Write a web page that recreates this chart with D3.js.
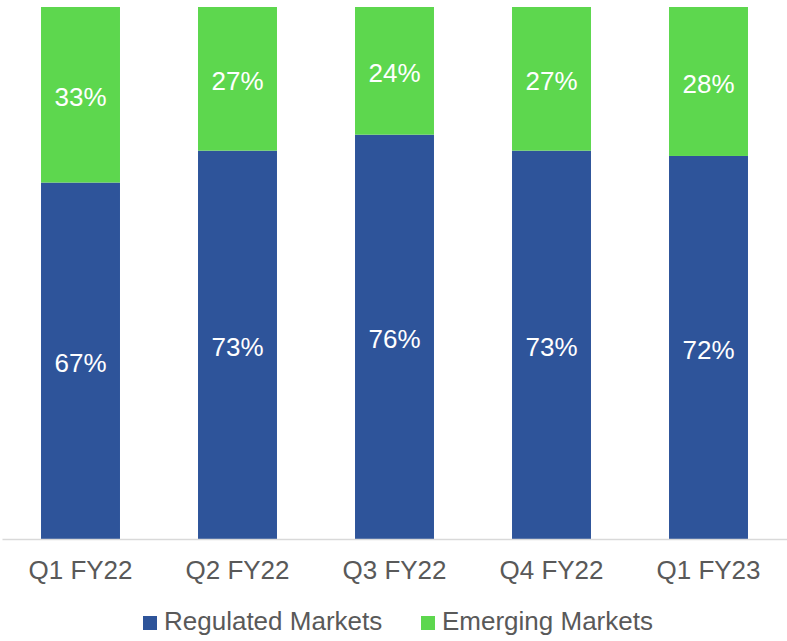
<!DOCTYPE html>
<html>
<head>
<meta charset="utf-8">
<script src="https://cdn.jsdelivr.net/npm/d3@7"></script>
<style>
  body { margin: 0; background: #fff; }
  text { font-family: "Liberation Sans", Arial, sans-serif; }
</style>
</head>
<body>
<div class="container"></div>
<script>
(function () {

    //chart data
    var quarters = ["Q1 FY22", "Q2 FY22", "Q3 FY22", "Q4 FY22", "Q1 FY23"];
    var regulated = [67, 73, 76, 73, 72];
    var emerging = [33, 27, 24, 27, 28];
    var seriesNames = ["Regulated Markets", "Emerging Markets"];
    var seriesColors = ["#2E549A", "#5DD74E"];

    var width = 787,
        height = 641,
        plotLeft = 2,
        plotRight = 787,
        plotTop = 7,
        plotBottom = 539;

    var svg = d3.select(".container")
        .append("svg")
        .attr("width", width)
        .attr("height", height);

    //stack the two series
    var rows = quarters.map(function (q, i) {
        return { quarter: q, reg: regulated[i], emg: emerging[i] };
    });
    var stack = d3.stack().keys(["reg", "emg"]);
    var layers = stack(rows);

    var xScale = d3.scaleBand()
        .domain(quarters)
        .range([plotLeft, plotRight])
        .paddingInner(0.497)
        .paddingOuter(0.2485);

    var yScale = d3.scaleLinear()
        .domain([0, 100])
        .range([plotBottom, plotTop]);

    //bars
    var groups = svg.selectAll(".layer")
        .data(layers)
        .enter()
        .append("g")
        .attr("class", "layer")
        .style("fill", function (d, i) { return seriesColors[i]; });

    groups.selectAll("rect")
        .data(function (d) { return d; })
        .enter()
        .append("rect")
        .attr("x", function (d) { return xScale(d.data.quarter); })
        .attr("width", xScale.bandwidth())
        .attr("y", function (d) { return yScale(d[1]); })
        .attr("height", function (d) { return yScale(d[0]) - yScale(d[1]); });

    //data labels
    groups.selectAll("text")
        .data(function (d) { return d; })
        .enter()
        .append("text")
        .attr("x", function (d) { return xScale(d.data.quarter) + xScale.bandwidth() / 2; })
        .attr("y", function (d) { return (yScale(d[0]) + yScale(d[1])) / 2 + 2; })
        .attr("dy", "0.35em")
        .attr("text-anchor", "middle")
        .style("fill", "#fff")
        .style("font-size", "26px")
        .text(function (d) { return (d[1] - d[0]) + "%"; });

    //x axis
    var xAxis = d3.axisBottom(xScale).tickSize(0).tickPadding(22);
    var axis = svg.append("g")
        .attr("transform", "translate(0," + plotBottom + ")")
        .call(xAxis);
    axis.select(".domain").attr("stroke", "#D9D9D9").attr("stroke-width", 1.5);
    axis.selectAll("text")
        .style("font-size", "26px")
        .style("fill", "#595959")
        .attr("font-family", null);

    //legend
    var legendX = [143, 421];
    var legend = svg.selectAll(".legend")
        .data(seriesNames)
        .enter()
        .append("g")
        .attr("class", "legend")
        .attr("transform", function (d, i) { return "translate(" + legendX[i] + ",616)"; });

    legend.append("rect")
        .attr("width", 14)
        .attr("height", 14)
        .style("fill", function (d, i) { return seriesColors[i]; });

    legend.append("text")
        .attr("x", 21)
        .attr("y", 14)
        .style("font-size", "26px")
        .style("fill", "#595959")
        .text(function (d) { return d; });

})();
</script>
</body>
</html>
